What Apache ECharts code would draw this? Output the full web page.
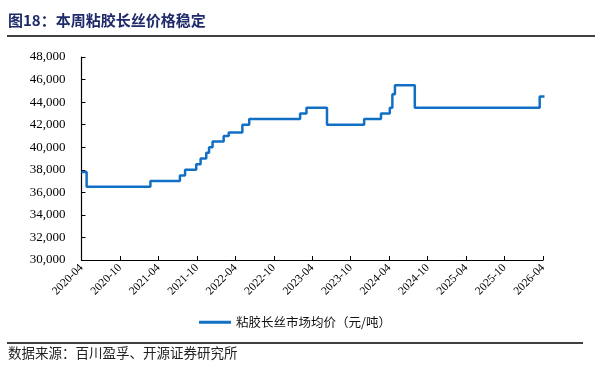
<!DOCTYPE html>
<html>
<head>
<meta charset="utf-8">
<script src="https://cdn.jsdelivr.net/npm/echarts@6/dist/echarts.min.js"></script>
<style>
  html, body { margin: 0; padding: 0; background: #fff; }
  #chart-container { width: 603px; height: 378px; }
</style>
</head>
<body>
<div id="chart-container"></div>
<script>
// change dates and the price that starts on each date
var changeDates = [
  '2020-04-01', '2020-04-25', '2021-02-22', '2021-07-12', '2021-08-06',
  '2021-09-28', '2021-10-19', '2021-11-15', '2021-11-28', '2021-12-15',
  '2022-02-06', '2022-02-28', '2022-05-04', '2022-06-06', '2023-02-04',
  '2023-03-04', '2023-06-10', '2023-12-04', '2024-02-22', '2024-04-04',
  '2024-04-16', '2024-04-28', '2024-08-01', '2026-03-16', '2026-04-08'
];
var prices = [
  37800, 36500, 37000, 37500, 38000,
  38500, 39000, 39500, 40000, 40500,
  41000, 41300, 42000, 42500, 43000,
  43500, 42000, 42500, 43000, 43500,
  44700, 45500, 43500, 44500, 44500
];
var tickLabels = [
  '2020-04', '2020-10', '2021-04', '2021-10', '2022-04', '2022-10', '2023-04',
  '2023-10', '2024-04', '2024-10', '2025-04', '2025-10', '2026-04'
];
var seriesName = '粘胶长丝市场均价（元/吨）';

// months since 2020-04
function monthIndex(s) {
  var p = s.split('-').map(Number);
  var days = new Date(p[0], p[1], 0).getDate();
  return (p[0] - 2020) * 12 + (p[1] - 4) + (p[2] - 1) / days;
}

var data = changeDates.map(function (d, i) { return [monthIndex(d), prices[i]]; });

var dom = document.getElementById('chart-container');
var myChart = echarts.init(dom, null, { renderer: 'canvas' });

var option = {
  animation: false,
  backgroundColor: '#fff',
  graphic: [
    {
      type: 'text', left: 8, top: 13,
      style: { text: '图18：本周粘胶长丝价格稳定', fill: '#1f2a6b', font: 'bold 15px "Noto Sans CJK SC"' }
    },
    { type: 'line', shape: { x1: 7, y1: 36, x2: 595, y2: 36 }, style: { stroke: '#000', lineWidth: 1.5 } },
    { type: 'line', shape: { x1: 7, y1: 343, x2: 583, y2: 343 }, style: { stroke: '#000', lineWidth: 1.5 } },
    {
      type: 'text', left: 8, top: 346,
      style: { text: '数据来源：百川盈孚、开源证券研究所', fill: '#222', font: '13.5px "Noto Sans CJK SC"' }
    }
  ],
  legend: {
    left: 194,
    top: 311,
    itemWidth: 32,
    itemHeight: 3,
    itemGap: 4,
    icon: 'rect',
    textStyle: { color: '#111', fontSize: 12.5, fontFamily: '"Noto Sans CJK SC"' },
    data: [seriesName]
  },
  grid: { left: 81.5, right: 60, top: 57, bottom: 118, containLabel: false },
  xAxis: {
    type: 'value',
    min: 0,
    max: 72,
    interval: 6,
    axisLine: { lineStyle: { color: '#000', width: 1.2 } },
    axisTick: { inside: true, length: 4, lineStyle: { color: '#000' } },
    splitLine: { show: false },
    axisLabel: {
      rotate: 45,
      color: '#000',
      fontSize: 11.5,
      fontFamily: '"Liberation Serif"',
      margin: 6,
      formatter: function (v) { return tickLabels[Math.round(v / 6)] || ''; }
    }
  },
  yAxis: {
    type: 'value',
    min: 30000,
    max: 48000,
    interval: 2000,
    axisLine: { show: true, lineStyle: { color: '#000', width: 1.2 } },
    axisTick: { show: true, inside: true, length: 4, lineStyle: { color: '#000' } },
    splitLine: { show: false },
    axisLabel: {
      color: '#000',
      fontSize: 13,
      fontFamily: '"Liberation Serif"',
      margin: 16,
      formatter: function (v) { return v.toLocaleString('en-US'); }
    }
  },
  series: [
    {
      name: seriesName,
      type: 'line',
      step: 'end',
      showSymbol: false,
      lineStyle: { color: '#1270c4', width: 2.5 },
      itemStyle: { color: '#1270c4' },
      data: data
    }
  ]
};

myChart.setOption(option);
</script>
</body>
</html>
